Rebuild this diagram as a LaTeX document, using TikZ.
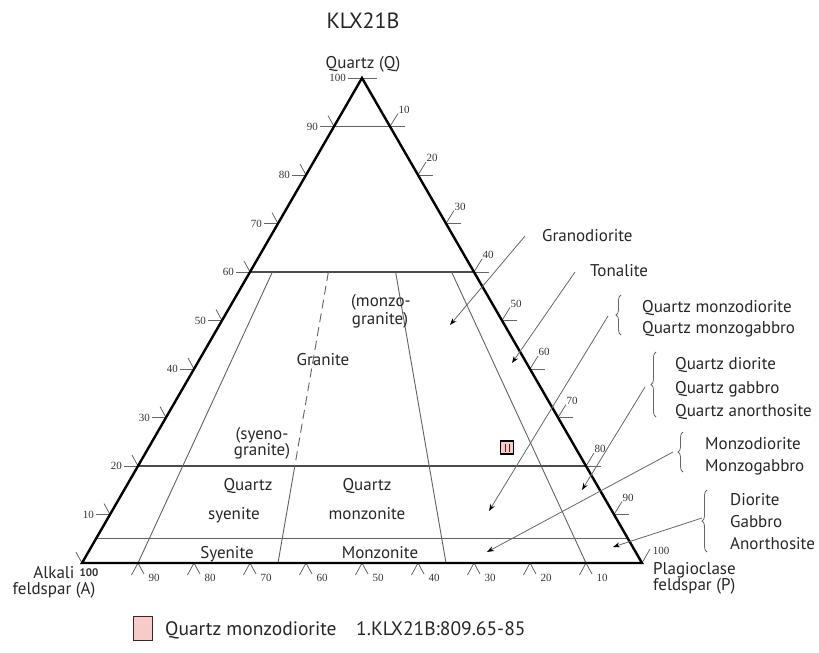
\documentclass[tikz,border=0pt]{standalone}
\usepackage{fontspec}
\setmainfont{PT Sans}
\newfontfamily\serifnum{Liberation Serif}
\usetikzlibrary{arrows.meta,decorations.pathreplacing,calc}
\definecolor{pinkfill}{HTML}{F6CBC8}
\definecolor{darkbrd}{HTML}{3A2626}
\begin{document}
\begin{tikzpicture}[x=1pt,y=-1pt,
 edge/.style={line width=2.4pt,black,line join=miter},
 field/.style={line width=0.9pt,draw=black!62},
 fieldh/.style={line width=1.2pt,draw=black!70},
 tickln/.style={line width=0.8pt,draw=black!60},
 num/.style={font=\serifnum\fontsize{11}{11}\selectfont,inner sep=0pt,text=black!80},
 lab/.style={font=\fontsize{17}{17}\selectfont,inner sep=0pt,text height=12pt,text depth=0pt,text=black!85},
 arr/.style={line width=0.8pt,draw=black!60,-{Stealth[length=7pt,width=5pt,black]}},
 brc/.style={decorate,decoration={brace,amplitude=5pt},line width=0.8pt,draw=black!60},
]
\useasboundingbox (0,0) rectangle (819,653);
\coordinate (A) at (82,563);
\coordinate (P) at (642,563);
\coordinate (Q) at (362,78);

% horizontal field lines
\draw[field] (barycentric cs:A=0.1,Q=0.9) -- (barycentric cs:P=0.1,Q=0.9);
\draw[fieldh] (barycentric cs:A=0.4,Q=0.6) -- (barycentric cs:P=0.4,Q=0.6);
\draw[fieldh] (barycentric cs:A=0.8,Q=0.2) -- (barycentric cs:P=0.8,Q=0.2);
\draw[field] (barycentric cs:A=0.95,Q=0.05) -- (barycentric cs:P=0.95,Q=0.05);
% ratio lines
\draw[field] (barycentric cs:A=0.36,P=0.04,Q=0.6) -- (barycentric cs:A=0.9,P=0.1);
\draw[field,dash pattern=on 9pt off 5pt] (barycentric cs:A=0.26,P=0.14,Q=0.6) -- (barycentric cs:A=0.52,P=0.28,Q=0.2);
\draw[field] (barycentric cs:A=0.52,P=0.28,Q=0.2) -- (barycentric cs:A=0.65,P=0.35);
\draw[field] (barycentric cs:A=0.14,P=0.26,Q=0.6) -- (barycentric cs:A=0.35,P=0.65);
\draw[field] (barycentric cs:A=0.04,P=0.36,Q=0.6) -- (barycentric cs:A=0.1,P=0.9);

% left edge ticks
\foreach \i in {1,...,10}{
  \pgfmathsetmacro\xx{82+28*\i}
  \pgfmathsetmacro\yy{563-48.5*\i}
  \pgfmathtruncatemacro\vv{10*\i}
  \draw[tickln] (\xx-14,\yy) -- (\xx,\yy);
  \node[num,anchor=east] (ln\i) at (\xx-16,\yy) {\vv};
}
\foreach \i in {0,...,9}{
  \pgfmathsetmacro\xx{82+28*\i}
  \pgfmathsetmacro\yy{563-48.5*\i}
  \draw[tickln] (\xx,\yy) -- (\xx-6,\yy-11);
}
% right edge ticks
\foreach \i in {1,...,10}{
  \pgfmathsetmacro\xx{642-28*\i}
  \pgfmathsetmacro\yy{563-48.5*\i}
  \draw[tickln] (\xx,\yy) -- (\xx+15,\yy);
}
\foreach \i in {1,...,9}{
  \pgfmathsetmacro\xx{642-28*\i}
  \pgfmathsetmacro\yy{563-48.5*\i}
  \pgfmathtruncatemacro\vv{100-10*\i}
  \draw[tickln] (\xx,\yy) -- (\xx+8,\yy-13);
  \node[num] (rn\i) at (\xx+14,\yy-17) {\vv};
}
\draw[tickln] (P) -- ++(8,-14);
\node[num] (rn0) at (661,551) {100};
% bottom ticks
\foreach \k in {1,...,9}{
  \pgfmathsetmacro\xx{82+56*\k}
  \pgfmathtruncatemacro\vv{100-10*\k}
  \draw[tickln] (\xx-6.5,575) -- (\xx,563) -- (\xx+6,574);
  \node[num] (bn\k) at (\xx+16,578) {\vv};
}
\node[font=\bfseries\fontsize{11}{11}\selectfont,inner sep=0pt,text=black!80] (a100) at (89,573) {100};

% triangle
\draw[edge] (A) -- (P) -- (Q) -- cycle;

% titles and corner labels
\node[font=\fontsize{22}{22}\selectfont,inner sep=0pt,text=black!85] (title) at (363,21) {KLX21B};
\node[lab] (qlab) at (363,62) {Quartz (Q)};
\node[lab] (alab1) at (54,572) {Alkali};
\node[lab] (alab2) at (54,588) {feldspar (A)};
\node[lab,anchor=west] (plab1) at (653,568) {Plagioclase};
\node[lab,anchor=west] (plab2) at (653,584) {feldspar (P)};

% field labels
\node[lab] (mg1) at (381,300) {(monzo-};
\node[lab] (mg2) at (380,318) {granite)};
\node[lab] (gr) at (323,359) {Granite};
\node[lab] (sg1) at (262,433) {(syeno-};
\node[lab] (sg2) at (262,449) {granite)};
\node[lab] (qs1) at (248,484) {Quartz};
\node[lab] (qs2) at (234,513) {syenite};
\node[lab] (qm1) at (367,484) {Quartz};
\node[lab] (qm2) at (367,513) {monzonite};
\node[lab] (sy) at (227,552) {Syenite};
\node[lab] (mz) at (380,552) {Monzonite};

% sample marker
\node[draw=black,line width=1.1pt,fill=pinkfill,minimum width=13pt,minimum height=13pt,inner sep=0pt] (smp) at (507,447.5) {};
\draw[line width=0.8pt,darkbrd] ($(smp.center)+(-2,-4)$) -- ($(smp.center)+(-2,4)$);
\draw[line width=0.8pt,darkbrd] ($(smp.center)+(2,-4)$) -- ($(smp.center)+(2,4)$);

% right-side labels
\node[lab,anchor=west] (t1) at (542,235) {Granodiorite};
\node[lab,anchor=west] (t2) at (590,270) {Tonalite};
\node[lab,anchor=west] (t3a) at (642,306) {Quartz monzodiorite};
\node[lab,anchor=west] (t3b) at (642,327) {Quartz monzogabbro};
\node[lab,anchor=west] (t4a) at (675,363) {Quartz diorite};
\node[lab,anchor=west] (t4b) at (675,387) {Quartz gabbro};
\node[lab,anchor=west] (t4c) at (675,410) {Quartz anorthosite};
\node[lab,anchor=west] (t5a) at (705,443) {Monzodiorite};
\node[lab,anchor=west] (t5b) at (705,465) {Monzogabbro};
\node[lab,anchor=west] (t6a) at (730,499) {Diorite};
\node[lab,anchor=west] (t6b) at (730,521) {Gabbro};
\node[lab,anchor=west] (t6c) at (730,543) {Anorthosite};

% braces
\draw[brc] (621,335) -- (621,295);
\draw[brc] (656,417) -- (656,352);
\draw[brc] (683,472) -- (683,432);
\draw[brc] (707,552) -- (707,490);

% arrows
\coordinate (s1) at (525,236); \coordinate (e1) at (450,325);
\coordinate (s2) at (575,272); \coordinate (e2) at (512,363);
\coordinate (s3) at (608,316); \coordinate (e3) at (489,511);
\coordinate (s4) at (645,387); \coordinate (e4) at (582,490);
\coordinate (s5) at (673,452); \coordinate (e5) at (487,552);
\coordinate (s6) at (702,518); \coordinate (e6) at (613,547);
\foreach \n in {1,...,6}{ \draw[arr] (s\n) -- (e\n); }

% legend
\node[draw=darkbrd,line width=1.5pt,fill=pinkfill,minimum width=19pt,minimum height=24pt,inner sep=0pt] (legsq) at (143,628.5) {};
\node[font=\fontsize{19.5}{19.5}\selectfont,inner sep=0pt,text height=13.5pt,text depth=0pt,anchor=west,text=black!85] (leg1) at (165,629) {Quartz monzodiorite};
\node[font=\fontsize{19.5}{19.5}\selectfont,inner sep=0pt,text height=13.5pt,text depth=0pt,anchor=west,text=black!85] (leg2) at (356,629) {1.KLX21B:809.65-85};
\end{tikzpicture}
\end{document}
